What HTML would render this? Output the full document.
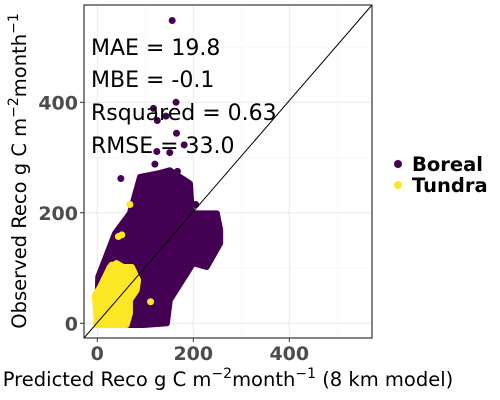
<!DOCTYPE html>
<html><head><meta charset="utf-8"><style>
body{margin:0;background:#fff;}
svg{display:block;font-family:"DejaVu Sans","Liberation Sans",sans-serif;}
</style></head><body>
<svg id="chart" width="500" height="400">
<g id="grid"></g>
<g id="marks"></g>
<g id="axes"></g>
<g font-size="22" fill="#000">
<text x="91" y="55">MAE = 19.8</text>
<text x="91" y="87">MBE = -0.1</text>
<text x="91" y="120">Rsquared = 0.63</text>
<text x="91" y="153">RMSE = 33.0</text>
</g>
<text transform="translate(26,171) rotate(-90)" text-anchor="middle" font-size="19.5">Observed Reco g C m<tspan dy="-8" font-size="14">−2</tspan><tspan dy="8">month</tspan><tspan dy="-8" font-size="14">−1</tspan></text>
<text x="228" y="386" text-anchor="middle" font-size="19.5">Predicted Reco g C m<tspan dy="-8" font-size="14">−2</tspan><tspan dy="8">month</tspan><tspan dy="-8" font-size="14">−1</tspan><tspan dy="8"> (8 km model)</tspan></text>
<g font-size="19.5" font-weight="bold">
<circle cx="398" cy="164" r="4" fill="#440154"/>
<text x="412" y="171">Boreal</text>
<circle cx="398" cy="185" r="4" fill="#fde725"/>
<text x="412" y="192">Tundra</text>
</g>
</svg>
<script>
const xTicks=[0,200,400];
const yTicks=[0,200,400];
const minorTicks=[100,300,500];
const borealBlobX=[-1,2,37,68,89,130,151,193,197,249,256,256,228,200,151,145,96];
const borealBlobY=[-3,84,163,199,265,272,277,253,199,199,169,145,102,109,42,0,-3];
const borealPointsX=[156,164,117,143,125,165,181,124,151,120,167,49,205,230,250,215];
const borealPointsY=[548,400,389,375,367,344,323,311,309,288,275,262,215,180,165,120];
const tundraBlobX=[-1,-5,6,26,40,54,72,85,82,68,68,61];
const tundraBlobY=[-3,51,66,102,109,102,102,78,60,42,18,-3];
const tundraPointsX=[68,51,44,30,111,0];
const tundraPointsY=[215,160,157,105,39,55];

const L=84,R=372,T=5,B=338;
const xs=v=>97.3+v*0.48;
const ys=v=>323.3-v*0.5525;
const NS="http://www.w3.org/2000/svg";
function mk(tag,attrs,parent){const e=document.createElementNS(NS,tag);for(const k in attrs)e.setAttribute(k,attrs[k]);parent.appendChild(e);return e;}
const grid=document.getElementById('grid'),marks=document.getElementById('marks'),axes=document.getElementById('axes');
mk('rect',{x:L,y:T,width:R-L,height:B-T,fill:'#fff'},grid);
minorTicks.forEach(v=>{
 const a=mk('line',{x1:xs(v),x2:xs(v),y1:T,y2:B,stroke:'#f2f2f2','stroke-width':0.6},grid);
 
 
 const b=mk('line',{x1:L,x2:R,y1:ys(v),y2:ys(v),stroke:'#f2f2f2','stroke-width':0.6},grid);
 
 
});
xTicks.forEach(v=>{
 const g=mk('line',{x1:xs(v),x2:xs(v),y1:T,y2:B,stroke:'#ebebeb','stroke-width':1.1},grid);
 
 
 const t=mk('line',{x1:xs(v),x2:xs(v),y1:B,y2:B+4,stroke:'#333','stroke-width':1},axes);
 
 
 const l=mk('text',{x:xs(v),y:B+22,'text-anchor':'middle','font-size':19,'font-weight':'bold',fill:'#4d4d4d'},axes);
 l.textContent=v;
 
 
});
yTicks.forEach(v=>{
 const g=mk('line',{x1:L,x2:R,y1:ys(v),y2:ys(v),stroke:'#ebebeb','stroke-width':1.1},grid);
 
 
 const t=mk('line',{x1:L-4,x2:L,y1:ys(v),y2:ys(v),stroke:'#333','stroke-width':1},axes);
 
 
 const l=mk('text',{x:L-6,y:ys(v)+7,'text-anchor':'end','font-size':19,'font-weight':'bold',fill:'#4d4d4d'},axes);
 l.textContent=v;
 
 
});
function blob(X,Y,color,name){
 const pts=X.map((x,i)=>xs(x)+','+ys(Y[i])).join(' ');
 const p=mk('polygon',{points:pts,fill:color,stroke:color,'stroke-width':6,'stroke-linejoin':'round'},marks);
 
 
}
function dots(X,Y,color,name){
 X.forEach((x,i)=>{
  const c=mk('circle',{cx:xs(x),cy:ys(Y[i]),r:3.5,fill:color},marks);
  
  
 });
}
blob(borealBlobX,borealBlobY,'#440154','boreal-point-cloud');
dots(borealPointsX,borealPointsY,'#440154','boreal-point');
blob(tundraBlobX,tundraBlobY,'#fde725','tundra-point-cloud');
dots(tundraPointsX,tundraPointsY,'#fde725','tundra-point');
const d=mk('line',{x1:L,y1:B,x2:R,y2:T,stroke:'#000','stroke-width':1},marks);


const f=mk('rect',{x:L,y:T,width:R-L,height:B-T,fill:'none',stroke:'#333','stroke-width':1.2},axes);


</script>
</body></html>
